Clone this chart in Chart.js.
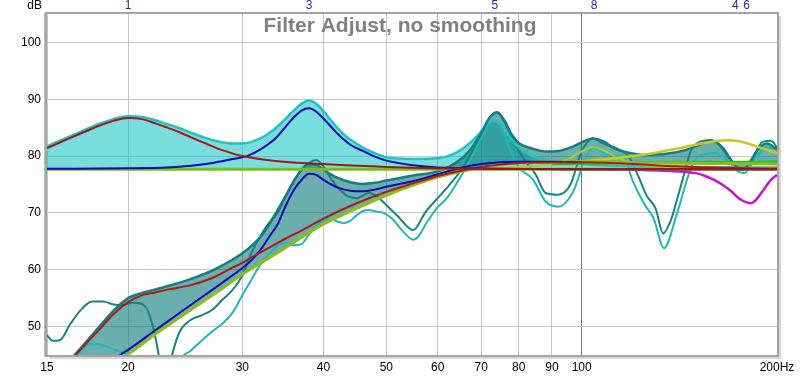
<!DOCTYPE html>
<html>
<head>
<meta charset="utf-8">
<script src="https://cdn.jsdelivr.net/npm/chart.js@4.4.0/dist/chart.umd.min.js"></script>
<style>
  body { margin: 0; background: #fff; }
  #wrap { width: 800px; height: 377px; }
</style>
</head>
<body>
<div id="wrap"><canvas id="filterChart" width="800" height="377"></canvas></div>
<script>
// Achsen
const xTicks = [15, 20, 30, 40, 50, 60, 70, 80, 90, 100, 200];
const xTickLabels = ['15', '20', '30', '40', '50', '60', '70', '80', '90', '100', '200Hz'];
const yTicks = [50, 60, 70, 80, 90, 100];
const filterNums = ['1', '3', '5', '8', '4', '6'];
const filterFreqs = [20, 38, 73.5, 104.5, 172.5, 179.5];

// obere Gruppe: Filter und Zielpegel
const targetF = [15, 200];
const targetDb = [77.7, 77.7];

const filter1F = [15, 16, 17, 18, 19, 20, 21, 22, 23, 24, 25, 26, 27, 28, 30, 34, 40, 50, 65, 100, 200];
const filter1Db = [81.4, 82.8, 84.1, 85.3, 86.2, 86.7, 86.5, 85.8, 85.0, 84.2, 83.3, 82.5, 81.7, 81.0, 80.0, 79.1, 78.6, 78.1, 77.8, 77.7, 77.7];

const filter3F = [15, 20, 23, 25, 27, 29, 30.5, 32, 33, 34, 35, 36, 37, 38, 39, 40, 41, 42, 43, 44, 46, 48, 50, 55, 60, 70, 100, 200];
const filter3Db = [77.75, 77.85, 78.0, 78.3, 78.8, 79.5, 80.0, 81.2, 82.2, 83.5, 85.2, 86.8, 88.0, 88.4, 87.8, 86.6, 85.3, 84.0, 82.9, 82.0, 80.9, 79.9, 79.2, 78.4, 78.0, 77.8, 77.7, 77.7];

const totalF = [15, 16, 17, 18, 19, 20, 21, 22, 23, 24, 25, 26, 27, 28, 29, 30, 31, 32, 33, 34, 35, 36, 37, 38, 39, 40, 41, 42, 43, 44, 46, 48, 50, 55, 60, 63, 66, 69, 71, 73, 75, 77, 80, 84, 90, 100, 120, 200];
const totalDb = [81.7, 83.1, 84.4, 85.6, 86.5, 87.0, 86.9, 86.3, 85.6, 84.9, 84.1, 83.4, 82.8, 82.4, 82.2, 82.2, 82.5, 83.1, 84.0, 85.2, 86.6, 88.0, 89.2, 89.8, 89.2, 87.9, 86.4, 85.0, 83.8, 82.9, 81.5, 80.5, 79.8, 79.5, 79.6, 80.2, 81.5, 83.5, 85.2, 86.2, 85.6, 83.8, 81.5, 80.0, 79.2, 78.6, 78.2, 78.0];

const filter8F = [70, 85, 95, 100, 104, 108, 115, 125, 140, 200];
const filter8Db = [77.8, 78.3, 79.4, 80.8, 81.6, 81.0, 79.4, 78.4, 78.0, 77.8];

const filter4F = [100, 110, 120, 130, 140, 150, 160, 168, 175, 185, 200];
const filter4Db = [79.1, 79.5, 80.0, 80.6, 81.3, 82.0, 82.6, 82.8, 82.6, 81.8, 80.5];

const filter6F = [100, 120, 135, 145, 150, 155, 160, 165, 170, 175, 180, 182, 186, 190, 195, 200];
const filter6Db = [77.7, 77.6, 77.4, 77.2, 77.0, 76.5, 75.8, 74.9, 73.8, 72.5, 71.8, 71.7, 72.4, 73.8, 75.6, 76.7];

const greenF = [90, 120, 160, 200];
const greenDb = [78.6, 78.8, 78.9, 79.0];

// untere Gruppe: Zielkurve, Messungen, Vorhersage
const lowTargetF = [15, 18, 20, 22, 24, 26, 28, 30, 32, 34, 36, 38, 40, 45, 50, 55, 60, 65, 70, 75, 80, 90, 100, 120, 150, 200];
const lowTargetDb = [36, 41.5, 45.1, 48.6, 51.6, 54.3, 56.8, 59.2, 61.2, 63.0, 64.8, 66.5, 68.0, 70.8, 73.1, 74.9, 76.3, 77.3, 78.0, 78.5, 78.8, 79.0, 79.0, 78.8, 78.7, 78.6];

const lowRedF = [15, 16, 17, 18, 19, 20, 21, 22, 23, 25, 27, 29, 30, 31, 33, 35, 37, 40, 45, 50, 55, 60, 65, 70, 80, 100, 120, 140, 170, 200];
const lowRedDb = [40.0, 43.0, 46.3, 49.3, 52.2, 54.3, 55.5, 56.0, 56.5, 57.3, 58.6, 60.4, 61.2, 62.2, 63.9, 65.5, 66.9, 69.0, 71.7, 73.7, 75.2, 76.5, 77.4, 78.1, 78.8, 78.9, 78.6, 78.2, 77.9, 77.8];

const lowBlueF = [18, 19.5, 20, 22, 24, 26, 28, 30, 31, 32, 33, 34, 35, 36, 37, 38, 39, 40, 42, 44, 46, 48, 50, 55, 60, 65, 70, 80, 90, 100];
const lowBlueDb = [41.5, 45.1, 45.9, 49.3, 52.4, 55.2, 57.8, 60.3, 61.7, 63.5, 65.8, 68.0, 71.3, 74.0, 75.8, 76.9, 76.7, 75.8, 74.5, 73.9, 73.8, 74.1, 74.6, 75.6, 76.8, 77.9, 78.6, 79.0, 79.0, 78.9];

const predF = [15, 16.7, 18, 19, 20, 21, 23, 25, 27, 29, 30, 31, 32, 33, 34, 35, 36, 37, 38, 39, 40, 42, 44, 46, 48, 50, 55, 60, 64, 67, 70, 72, 74, 76, 78, 80, 84, 88, 92, 96, 100, 104, 108, 112, 116, 125, 135, 145, 152, 158, 163, 168, 173, 177, 181, 187, 193, 200];
const predDb = [40, 45.5, 49.8, 52.8, 55.0, 55.9, 57.1, 58.4, 59.9, 61.8, 62.9, 64.2, 65.8, 68.0, 70.5, 73.0, 75.6, 77.6, 78.6, 78.5, 77.6, 76.2, 75.4, 75.1, 75.3, 75.7, 76.6, 77.3, 78.8, 80.8, 84.0, 86.6, 87.7, 86.3, 83.8, 82.3, 81.3, 80.8, 80.9, 81.5, 82.4, 83.1, 82.6, 81.4, 80.8, 80.2, 80.4, 81.1, 82.0, 82.8, 82.0, 80.0, 78.2, 77.6, 78.6, 81.2, 82.2, 81.2];

const measAF = [15, 15.3, 15.7, 16.3, 17, 17.6, 18.3, 19, 19.6, 20.3, 21, 21.5, 22, 22.4, 23, 23.4, 24, 25, 26, 27, 28, 29, 30, 31, 32, 33, 34, 35, 36, 37, 38, 39, 40, 41, 42, 43.5, 45, 47, 48.5, 50, 52, 55, 57.5, 60, 62.5, 66, 69, 72, 74, 76, 79, 82, 85, 88, 92, 96, 100, 104, 108, 114, 118, 122, 126, 130, 133.5, 137, 140, 144, 148, 158, 165, 172, 177, 183, 190, 196, 200];
const measADb = [48.5, 47.5, 47.6, 50.5, 53.2, 54.4, 54.4, 53.9, 53.8, 54.2, 54.0, 52.5, 48.5, 44.0, 41.5, 45.2, 49.0, 51.2, 52.0, 53.0, 54.8, 56.5, 59.0, 63.0, 66.0, 68.3, 70.0, 73.0, 75.5, 77.5, 78.8, 79.3, 78.2, 76.2, 74.6, 73.0, 72.6, 73.5, 72.8, 71.4, 69.5, 67.0, 70.2, 72.6, 74.9, 78.4, 82.5, 86.6, 87.7, 86.0, 82.0, 79.0, 76.7, 73.5, 73.2, 74.9, 80.8, 83.1, 82.2, 81.2, 80.0, 76.7, 73.0, 70.8, 66.4, 68.5, 72.0, 77.0, 81.4, 82.8, 81.5, 78.5, 77.6, 79.5, 82.5, 82.7, 81.5];

const measBF = [15, 16, 16.8, 17.4, 18, 18.7, 19.4, 20.2, 21, 23.5, 24, 25, 26, 27, 28, 29, 30, 31, 32, 33, 34, 35, 36, 37, 38, 39, 40, 41, 42, 43, 44, 45, 46, 47, 48, 49.5, 51, 53, 55, 56, 57.5, 60, 62, 64, 66, 70, 73, 75, 78, 80, 84, 88, 92, 97, 101, 104, 110, 116, 120, 125, 129, 134, 140, 148, 153, 160, 167, 173, 178, 185, 192, 200];
const measBDb = [40, 42.5, 45.3, 46.9, 46.9, 46.3, 45.6, 44.6, 42, 42, 44.2, 45.8, 47.6, 49.2, 50.6, 52.5, 55.5, 58.3, 61.0, 62.8, 64.2, 64.8, 64.3, 64.5, 66.2, 67.8, 68.8, 68.9, 68.5, 68.2, 68.6, 69.6, 70.3, 70.5, 70.3, 70.0, 69.0, 66.8, 65.3, 65.8, 68.0, 71.0, 72.6, 75.0, 77.5, 83.0, 86.2, 85.3, 80.5, 78.0, 76.0, 72.0, 71.1, 73.7, 79.2, 81.4, 80.2, 79.8, 75.5, 71.5, 69.1, 63.8, 69.6, 78.4, 80.2, 80.5, 79.5, 77.5, 77.0, 79.5, 81.5, 81.3];

function pts(fs, ds) {
  return fs.map((f, i) => ({ x: f, y: ds[i] }));
}

function line(data, color, width, extra) {
  return Object.assign({
    data: data,
    borderColor: color,
    borderWidth: width,
    pointRadius: 0,
    fill: false,
    cubicInterpolationMode: 'monotone'
  }, extra || {});
}

// Index 0 liegt oben
const datasets = [
  line(pts(filter1F, filter1Db), '#a81414', 2),
  line(pts(filter3F, filter3Db), '#0a0ab8', 2),
  line(pts(lowRedF, lowRedDb), '#ad1a14', 2),
  line(pts(lowBlueF, lowBlueDb), '#0a0ab8', 2),
  line(pts(targetF, targetDb), '#74bf1e', 3),
  line(pts(lowTargetF, lowTargetDb), '#8fbc1a', 3),
  line(pts(filter6F, filter6Db), '#c814c8', 2.5),
  line(pts(filter4F, filter4Db), '#c9c91e', 2.5),
  line(pts(filter8F, filter8Db), '#a0cf30', 2),
  line(pts(greenF, greenDb), '#1fc21f', 2.5),
  line(pts(predF, predDb), '#167c7c', 2.5, { fill: { target: 5 }, backgroundColor: 'rgba(0,115,115,0.58)' }),
  line(pts(totalF, totalDb), '#22c2c2', 2.5, { fill: { value: 77.7 }, backgroundColor: 'rgba(0,190,190,0.52)' }),
  line(pts(measAF, measADb), '#1a8282', 2),
  line(pts(measBF, measBDb), '#22b6b6', 2)
];

// Beschriftungen, Titel und Rahmen selbst zeichnen
const decorPlugin = {
  id: 'decor',
  afterDraw(chart) {
    const ctx = chart.ctx;
    const xs = chart.scales.x;
    const ys = chart.scales.y;
    const a = chart.chartArea;
    ctx.save();

    // Rahmen mit Schatten
    ctx.fillStyle = '#d6d6d6';
    ctx.fillRect(a.right + 1, a.top + 2, 3, a.bottom - a.top + 1);
    ctx.fillRect(a.left + 2, a.bottom + 1, a.right - a.left + 2, 3);
    ctx.fillStyle = '#bdbdbd';
    ctx.fillRect(a.left - 3, a.top - 1, 3, a.bottom - a.top + 2);
    ctx.strokeStyle = '#a4a4a4';
    ctx.lineWidth = 2;
    ctx.strokeRect(a.left - 1, a.top - 1, a.right - a.left + 2, a.bottom - a.top + 2);

    ctx.font = '12px "Liberation Sans", Arial, sans-serif';
    ctx.fillStyle = '#000';
    ctx.textBaseline = 'middle';

    ctx.textAlign = 'right';
    yTicks.forEach(v => ctx.fillText(String(v), a.left - 6, ys.getPixelForValue(v)));
    ctx.fillText('dB', a.left - 5, 6);

    ctx.textAlign = 'center';
    xTicks.forEach((v, i) => ctx.fillText(xTickLabels[i], xs.getPixelForValue(v), 368));

    ctx.fillStyle = '#2a2ab4';
    filterFreqs.forEach((f, i) => ctx.fillText(filterNums[i], xs.getPixelForValue(f), 6));

    ctx.font = 'bold 21px "Liberation Sans", Arial, sans-serif';
    ctx.fillStyle = '#808080';
    ctx.fillText('Filter Adjust, no smoothing', 400, 26);
    ctx.restore();
  }
};

const ctx = document.getElementById('filterChart').getContext('2d');
const myChart = new Chart(ctx, {
  type: 'line',
  data: { datasets },
  options: {
    responsive: false,
    animation: false,
    layout: { padding: { left: 47, right: 23, top: 14, bottom: 22 } },
    plugins: {
      legend: { display: false },
      tooltip: { enabled: false },
      filler: { drawTime: 'beforeDatasetsDraw' }
    },
    scales: {
      x: {
        type: 'logarithmic',
        min: 15,
        max: 200,
        afterBuildTicks: s => { s.ticks = xTicks.map(v => ({ value: v })); },
        ticks: { display: false },
        border: { display: false },
        grid: {
          drawTicks: false,
          lineWidth: 1,
          color: c => (c.tick && c.tick.value === 100) ? '#7a7a7a' : '#c6c6c6'
        }
      },
      y: {
        type: 'linear',
        min: 45,
        max: 105,
        afterBuildTicks: s => { s.ticks = yTicks.map(v => ({ value: v })); },
        ticks: { display: false },
        border: { display: false },
        grid: { drawTicks: false, lineWidth: 1, color: '#c6c6c6' }
      }
    }
  },
  plugins: [decorPlugin]
});
</script>
</body>
</html>
